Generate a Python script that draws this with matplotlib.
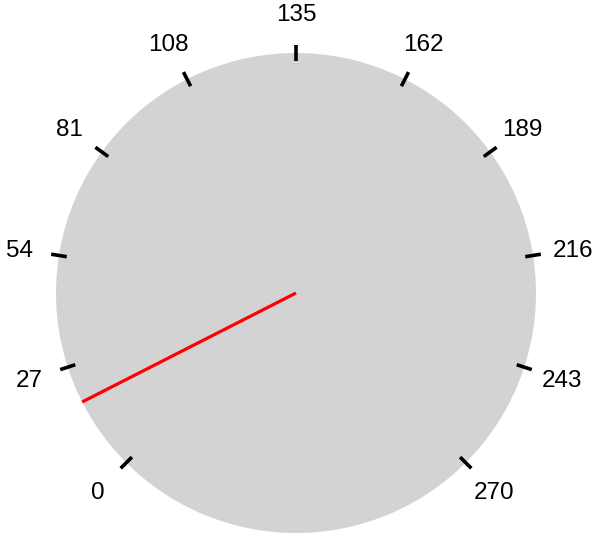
import numpy as np
import matplotlib.pyplot as plt
from matplotlib.patches import Circle

# gauge settings
tick_values = [0, 27, 54, 81, 108, 135, 162, 189, 216, 243, 270]
gauge_min = 0
gauge_max = 270
needle_value = 18

plt.rcParams['font.family'] = ['Liberation Sans', 'DejaVu Sans']

fig = plt.figure(figsize=(5.99, 5.37), dpi=100)
ax = fig.add_axes([0, 0, 1, 1])

# pixel geometry: center (296, 293), radius 240
R = 240.0
cx, cy = 296.0, 293.0
ax.set_xlim(-cx / R, (599 - cx) / R)
ax.set_ylim(-(537 - cy) / R, cy / R)
ax.set_aspect('equal')
ax.axis('off')


def value_to_angle(v):
    # 0 at lower-left, 270 at lower-right, clockwise, 270 degree sweep
    frac = (v - gauge_min) / (gauge_max - gauge_min)
    return np.deg2rad(225 - frac * 270)


ax.add_patch(Circle((0, 0), 1.0, facecolor='#d3d3d3', edgecolor='none', zorder=1))

for v in tick_values:
    a = value_to_angle(v)
    c, s = np.cos(a), np.sin(a)
    ax.plot([0.967 * c, 1.033 * c], [0.967 * s, 1.033 * s], color='black',
            lw=2.6, solid_capstyle='butt', zorder=3)
    ax.text(1.167 * c, 1.167 * s - 0.008, str(v), ha='center', va='center',
            fontsize=17.5, color='black', zorder=4)

a = value_to_angle(needle_value)
ax.plot([0, np.cos(a)], [0, np.sin(a)], color='red', lw=2.3,
        solid_capstyle='butt', zorder=2)

fig.savefig('out.png', dpi=100)
